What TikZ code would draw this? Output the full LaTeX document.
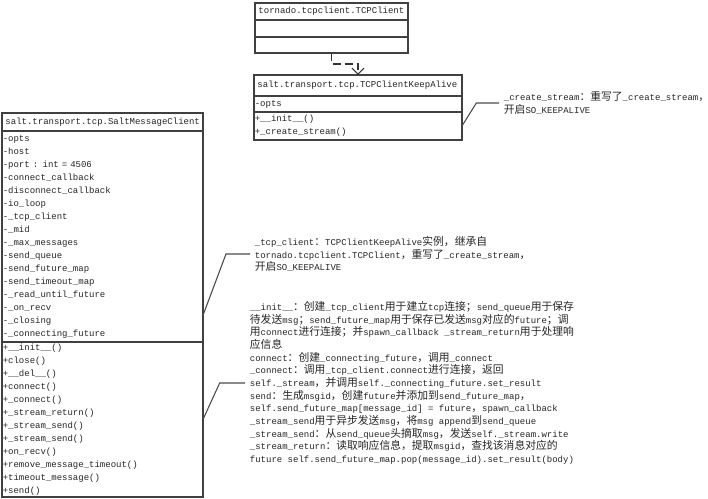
\documentclass[tikz,border=0pt]{standalone}
\usepackage{fontspec}
\setmainfont{Liberation Mono}
\newfontfamily\umlfont{Liberation Mono}
\newfontfamily\cjk{Noto Sans CJK SC}[Scale=1.2]
\usetikzlibrary{arrows.meta, positioning, calc}
\newcommand\zh[1]{{\cjk #1}}

\begin{document}
\begin{tikzpicture}[
      x=0.75pt, y=-0.75pt,
      member/.style={rectangle, draw=black!75, line width=0.9pt, outer sep=0pt, inner xsep=0.6pt, inner ysep=0pt, align=left, text=black!85, font={\umlfont\fontsize{6.75pt}{9.75pt}\selectfont}},
      classname/.style={member, inner xsep=2.6pt},
      note/.style={inner xsep=3.5pt, inner ysep=0pt, align=left, text=black!85, font={\umlfont\fontsize{6.75pt}{9.5pt}\selectfont}},
      noteline/.style={draw=black!70, line width=0.8pt},
      realize/.style={draw=black!80, line width=0.9pt, dash pattern=on 6pt off 3pt, -{Straight Barb[length=4.5pt, width=9pt]}}
    ]

    \path[use as bounding box, fill=white] (0,0) rectangle (708,499);

    % Klassen
    \node (tcpName) [classname, text width=109.55pt, minimum height=12.75pt, anchor=north] at (331.5,3) {tornado.tcpclient.TCPClient};
    \node (tcpAttr) [member, text width=113.55pt, minimum height=12.75pt, below=0pt of tcpName] {};
    \node (tcpOps) [member, text width=113.55pt, minimum height=12pt, below=0pt of tcpAttr] {};

    \node (kaName) [classname, text width=150.8pt, minimum height=15.75pt, anchor=north] at (358,75) {salt.transport.tcp.TCPClientKeepAlive};
    \node (kaAttr) [member, text width=154.8pt, minimum height=12pt, below=0pt of kaName] {-opts};
    \node (kaOps) [member, text width=154.8pt, minimum height=21pt, below=0pt of kaAttr] {+\_\_init\_\_()\\+\_create\_stream()};

    \node (smcName) [classname, text width=145.55pt, minimum height=13.5pt, anchor=north] at (102.5,113) {salt.transport.tcp.SaltMessageClient};
    \node (smcAttr) [member, text width=149.55pt, minimum height=158.25pt, below=0pt of smcName] {-opts\\-host\\-port : int = 4506\\-connect\_callback\\-disconnect\_callback\\-io\_loop\\-\_tcp\_client\\-\_mid\\-\_max\_messages\\-send\_queue\\-send\_future\_map\\-send\_timeout\_map\\-\_read\_until\_future\\-\_on\_recv\\-\_closing\\-\_connecting\_future};
    \node (smcOps) [member, text width=149.55pt, minimum height=116.25pt, below=0pt of smcAttr] {+\_\_init\_\_()\\+close()\\+\_\_del\_\_()\\+connect()\\+\_connect()\\+\_stream\_return()\\+\_stream\_send()\\+\_stream\_send()\\+on\_recv()\\+remove\_message\_timeout()\\+timeout\_message()\\+send()};

    % Notizen
    \node (noteKa) [note, anchor=west] at (499,103) {\_create\_stream\zh{：重写了}\_create\_stream\zh{，}\\\zh{开启}SO\_KEEPALIVE};
    \node (noteTcp) [note, anchor=west] at (250,254) {\_tcp\_client\zh{：}TCPClientKeepAlive\zh{实例，继承自}\\tornado.tcpclient.TCPClient\zh{，重写了}\_create\_stream\zh{，}\\\zh{开启}SO\_KEEPALIVE};
    \node (noteOps) [note, anchor=west] at (245,383) {\_\_init\_\_\zh{：创建}\_tcp\_client\zh{用于建立}tcp\zh{连接；}send\_queue\zh{用于保存}\\
      \zh{待发送}msg\zh{；}send\_future\_map\zh{用于保存已发送}msg\zh{对应的}future\zh{；调}\\
      \zh{用}connect\zh{进行连接；并}spawn\_callback \_stream\_return\zh{用于处理响}\\
      \zh{应信息}\\
      connect\zh{：创建}\_connecting\_future\zh{，调用}\_connect\\
      \_connect\zh{：调用}\_tcp\_client.connect\zh{进行连接，返回}\\
      self.\_stream\zh{，并调用}self.\_connecting\_future.set\_result\\
      send\zh{：生成}msgid\zh{，创建}future\zh{并添加到}send\_future\_map\zh{，}\\
      self.send\_future\_map[message\_id] = future\zh{，}spawn\_callback\\
      \_stream\_send\zh{用于异步发送}msg\zh{，将}msg append\zh{到}send\_queue\\
      \_stream\_send\zh{：从}send\_queue\zh{头摘取}msg\zh{，发送}self.\_stream.write\\
      \_stream\_return\zh{：读取响应信息，提取}msgid\zh{，查找该消息对应的}\\
      future self.send\_future\_map.pop(message\_id).set\_result(body)};

    % Verbindungen
    \draw [realize] (tcpOps.south) -- ++(0,11) -| (kaName.north);
    \draw [noteline] (kaOps.east) -- ([xshift=-17pt]noteKa.west) -- (noteKa.west);
    \draw [noteline] ([yshift=20pt]smcAttr.south east) -- ([xshift=-18pt]noteTcp.west) -- (noteTcp.west);
    \draw [noteline] (smcOps.east) -- ([xshift=-19pt]noteOps.west) -- (noteOps.west);

  \end{tikzpicture}
\end{document}
